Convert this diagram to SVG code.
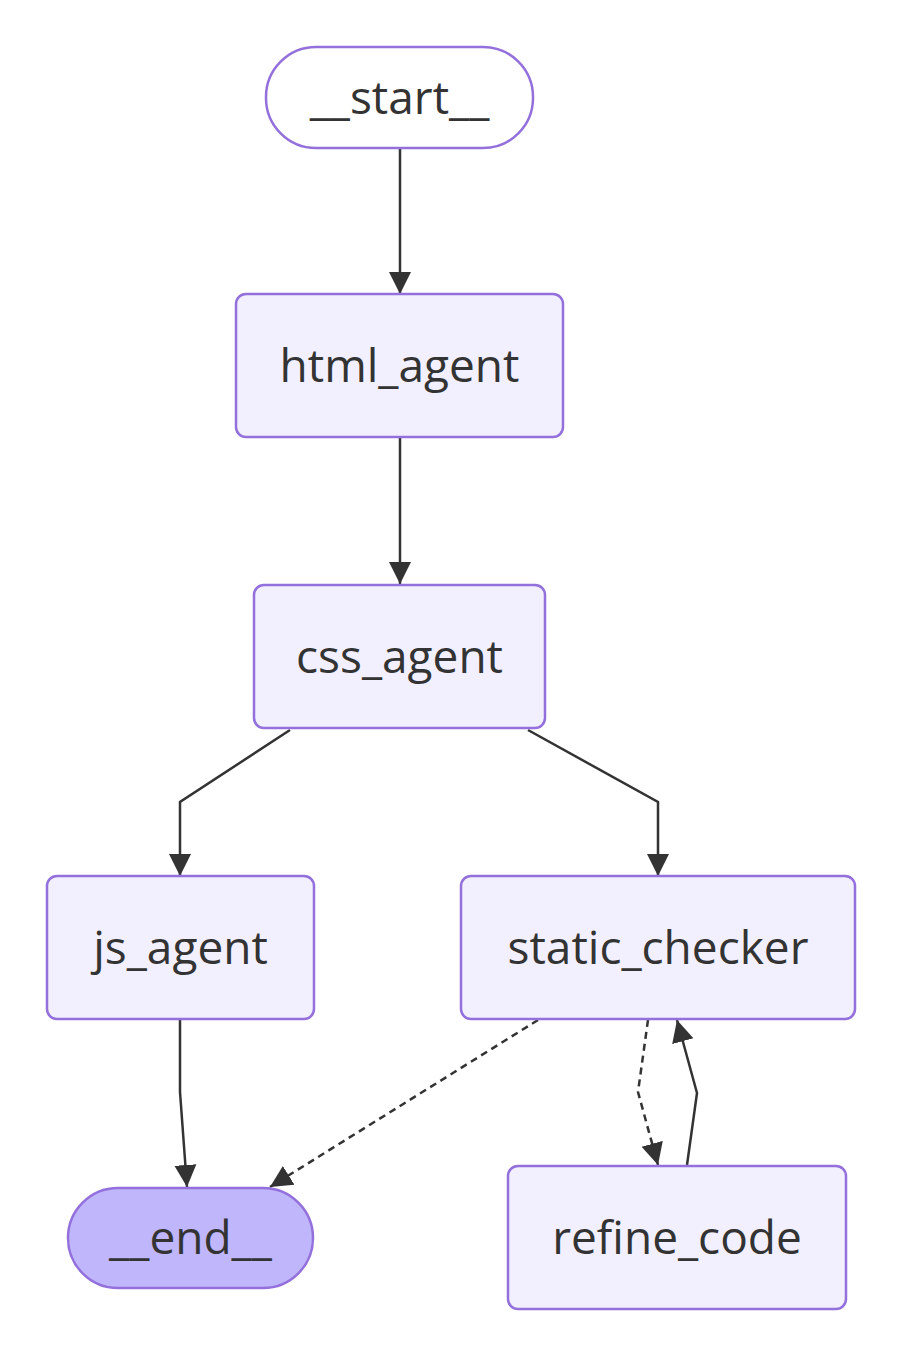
<svg xmlns="http://www.w3.org/2000/svg" width="903" height="1368" viewBox="0 0 903 1368">
<style>
.node rect{fill:#f2f0ff;stroke:#9370db;stroke-width:2.5}
.node.first rect{fill:#ffffff}
.node.last rect{fill:#bfb6fc}
.node text{font-family:"Open Sans","Noto Sans",sans-serif;font-size:46px;font-weight:500;fill:#333333;text-anchor:middle}
.edge{fill:none;stroke:#333333;stroke-width:2.5}
.dash{stroke-dasharray:7 5}
</style>
<defs>
<marker id="arr" markerUnits="userSpaceOnUse" markerWidth="24" markerHeight="24" viewBox="0 0 24 24" refX="22" refY="12" orient="auto">
<path d="M0,1 L22,12 L0,23 Z" fill="#333333"/>
</marker>
</defs>
<g id="connectors">
<path class="edge" d="M400,148 L400,294" marker-end="url(#arr)"/>
<path class="edge" d="M400,438 L400,584" marker-end="url(#arr)"/>
<path class="edge" d="M290,730 L180,802 L180,876" marker-end="url(#arr)"/>
<path class="edge" d="M528,730 L658,802 L658,876" marker-end="url(#arr)"/>
<path class="edge" d="M180,1020 L180,1092 L187,1187" marker-end="url(#arr)"/>
<path class="edge dash" d="M538,1020 L270,1187" marker-end="url(#arr)"/>
<path class="edge dash" d="M648,1020 L638,1092 L658,1165" marker-end="url(#arr)"/>
<path class="edge" d="M687,1165 L697,1093 L677,1020" marker-end="url(#arr)"/>
</g>
<g id="start" class="node first"><rect x="266" y="47" width="267" height="101" rx="50" ry="50"/><text x="399.5" y="113.5">__start__</text></g>
<g id="html_agent" class="node"><rect x="236" y="294" width="327" height="143" rx="10" ry="10"/><text x="399.5" y="381.5">html_agent</text></g>
<g id="css_agent" class="node"><rect x="254" y="585" width="291" height="143" rx="10" ry="10"/><text x="399.5" y="672.5">css_agent</text></g>
<g id="js_agent" class="node"><rect x="47" y="876" width="267" height="143" rx="10" ry="10"/><text x="180.5" y="963.5">js_agent</text></g>
<g id="static_checker" class="node"><rect x="461" y="876" width="394" height="143" rx="10" ry="10"/><text x="658" y="963.5">static_checker</text></g>
<g id="end" class="node last"><rect x="68" y="1188" width="245" height="100" rx="50" ry="50"/><text x="190.5" y="1254">__end__</text></g>
<g id="refine_code" class="node"><rect x="508" y="1166" width="338" height="143" rx="10" ry="10"/><text x="677" y="1253.5">refine_code</text></g>
</svg>
